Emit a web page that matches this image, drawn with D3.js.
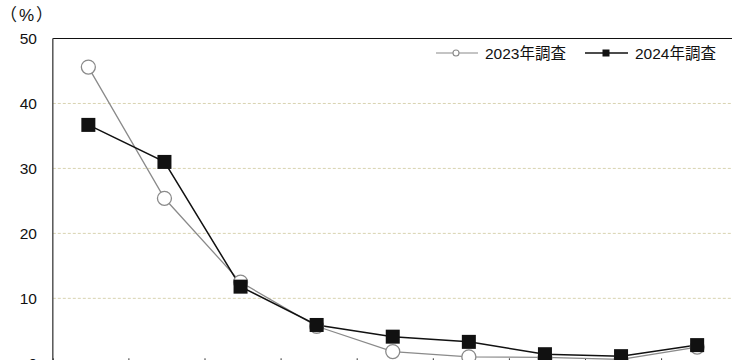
<!DOCTYPE html>
<html><head><meta charset="utf-8">
<script src="https://cdn.jsdelivr.net/npm/d3@7"></script>
<style>
html,body{margin:0;padding:0;background:#fff;overflow:hidden}
svg{display:block}
text{font-family:"Liberation Sans",Arial,"Noto Sans CJK JP",sans-serif}
</style></head>
<body>
<svg id="c" width="732" height="360"></svg>
<script>
const categories = ["c1","c2","c3","c4","c5","c6","c7","c8","c9"];
const series2023 = [45.6, 25.4, 12.5, 5.7, 1.8, 1.0, 0.9, 0.6, 2.5];
const series2024 = [36.7, 31.0, 11.8, 5.9, 4.1, 3.3, 1.4, 1.1, 2.8];
const yTicks = [0, 10, 20, 30, 40, 50];
const seriesNames = ["2023年調査", "2024年調査"];

(function () {
const svg = d3.select("#c");
const mLeft = 52.8, mTop = 38.5, mBottom = 363.3;
const x = d3.scaleBand().domain(categories).range([mLeft, mLeft + 76.1*9]).padding(0);
const px = c => x(c) + x.bandwidth()/2 - 2.5;
const y = d3.scaleLinear().domain([0, 50]).range([mBottom, mTop]);

svg.append("g").selectAll("line").data(yTicks.filter(t => t > 0 && t < 50)).join("line")
  .attr("x1", mLeft).attr("x2", 732).attr("y1", d => y(d)).attr("y2", d => y(d))
  .attr("stroke", "#d8d3b0").attr("stroke-width", 1).attr("stroke-dasharray", "3,2");

svg.append("line").attr("x1", mLeft).attr("x2", 732).attr("y1", y(50)).attr("y2", y(50))
  .attr("stroke", "#111").attr("stroke-width", 1.2);
svg.append("line").attr("x1", mLeft).attr("x2", mLeft).attr("y1", y(50)).attr("y2", mBottom)
  .attr("stroke", "#555").attr("stroke-width", 1.5);

const xAxis = d3.axisBottom(x).tickSize(-5).tickFormat("");
const xg = svg.append("g").attr("transform", `translate(0,${mBottom})`).call(xAxis);
xg.select(".domain").attr("stroke", "#333");
xg.selectAll(".tick line").attr("stroke", "#333")
  .attr("transform", `translate(${x.bandwidth()/2},0)`);

svg.append("g").selectAll("text").data(yTicks).join("text")
  .attr("x", 37).attr("y", d => y(d)).attr("dy", "0.36em")
  .attr("text-anchor", "end").attr("font-size", 15.5).attr("fill", "#111")
  .attr("font-family", "Noto Sans CJK JP")
  .text(d => d);
svg.append("text").attr("x", 0).attr("y", 21).attr("font-size", 17).attr("fill", "#111")
  .attr("font-family", "Noto Sans CJK JP").attr("letter-spacing", "2")
  .text("（%）");

const line = d3.line().x((d, i) => px(categories[i])).y(d => y(d));

svg.append("path").datum(series2023).attr("d", line)
  .attr("fill", "none").attr("stroke", "#8a8a8a").attr("stroke-width", 1.3);
svg.append("path").datum(series2024).attr("d", line)
  .attr("fill", "none").attr("stroke", "#111").attr("stroke-width", 1.5);

svg.append("g").selectAll("circle").data(series2023).join("circle")
  .attr("cx", (d, i) => px(categories[i])).attr("cy", d => y(d)).attr("r", 7)
  .attr("fill", "#fff").attr("stroke", "#8a8a8a").attr("stroke-width", 1.3);
svg.append("g").selectAll("rect").data(series2024).join("rect")
  .attr("x", (d, i) => px(categories[i]) - 7).attr("y", d => y(d) - 7)
  .attr("width", 14).attr("height", 14).attr("fill", "#111");

const lg = svg.append("g");
const ly = 53;
lg.append("line").attr("x1", 436).attr("x2", 478).attr("y1", ly).attr("y2", ly)
  .attr("stroke", "#8a8a8a").attr("stroke-width", 1.2);
lg.append("circle").attr("cx", 456).attr("cy", ly).attr("r", 3)
  .attr("fill", "#fff").attr("stroke", "#8a8a8a").attr("stroke-width", 1.1);
lg.append("text").attr("x", 485).attr("y", ly).attr("dy", "0.36em").attr("font-size", 15.5)
  .attr("fill", "#111").attr("font-family", "Noto Sans CJK JP").text(seriesNames[0]);
lg.append("line").attr("x1", 585).attr("x2", 628).attr("y1", ly).attr("y2", ly)
  .attr("stroke", "#111").attr("stroke-width", 1.5);
lg.append("rect").attr("x", 602.5).attr("y", ly - 3.5).attr("width", 7).attr("height", 7)
  .attr("fill", "#111");
lg.append("text").attr("x", 635).attr("y", ly).attr("dy", "0.36em").attr("font-size", 15.5)
  .attr("fill", "#111").attr("font-family", "Noto Sans CJK JP").text(seriesNames[1]);
})();
</script>
</body></html>
